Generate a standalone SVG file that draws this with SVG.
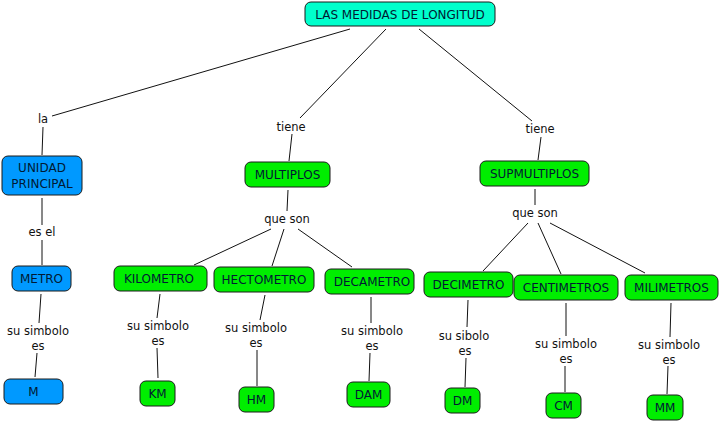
<svg xmlns="http://www.w3.org/2000/svg" width="721" height="422" viewBox="0 0 721 422">
<style>
.n rect{stroke:#1a1a1a;stroke-width:1;}
.g rect{fill:#00ee00;}
.b rect{fill:#0099ff;}
.r rect{fill:#00ffcc;}
text{font-family:"DejaVu Sans",Verdana,sans-serif;font-size:11px;text-anchor:middle;}
.n text{fill:#001a33;font-size:12px;}
.l{fill:#111;font-size:11.5px;}
#edges line{stroke:#111;stroke-width:1;}
</style>
<rect width="721" height="422" fill="#fff"/>
<g id="edges">
<line x1="350" y1="29" x2="52" y2="116"/>
<line x1="386" y1="29" x2="300" y2="118"/>
<line x1="419" y1="29" x2="532" y2="121"/>
<line x1="43" y1="127" x2="42" y2="155"/>
<line x1="292" y1="134" x2="289" y2="161"/>
<line x1="541" y1="137" x2="538" y2="160"/>
<line x1="42" y1="198" x2="42" y2="225"/>
<line x1="42" y1="240" x2="42" y2="265"/>
<line x1="288" y1="190" x2="287" y2="211"/>
<line x1="271" y1="229" x2="194" y2="265"/>
<line x1="284" y1="229" x2="272" y2="266"/>
<line x1="298" y1="229" x2="352" y2="267"/>
<line x1="535" y1="189" x2="535" y2="205"/>
<line x1="528" y1="223" x2="483" y2="271"/>
<line x1="538" y1="223" x2="561" y2="274"/>
<line x1="550" y1="223" x2="645" y2="273"/>
<line x1="41" y1="294" x2="39" y2="323"/>
<line x1="37" y1="353" x2="35" y2="377"/>
<line x1="160" y1="294" x2="157" y2="318"/>
<line x1="157" y1="348" x2="158" y2="378"/>
<line x1="265" y1="295" x2="260" y2="320"/>
<line x1="257" y1="350" x2="257" y2="386"/>
<line x1="371" y1="297" x2="371" y2="323"/>
<line x1="370" y1="353" x2="369" y2="381"/>
<line x1="468" y1="300" x2="467" y2="327"/>
<line x1="466" y1="358" x2="465" y2="387"/>
<line x1="566" y1="303" x2="566" y2="336"/>
<line x1="565" y1="366" x2="565" y2="392"/>
<line x1="671" y1="303" x2="670" y2="337"/>
<line x1="668" y1="366" x2="667" y2="394"/>
</g>
<g id="labels" class="l">
<text class="l" x="43" y="123">la</text>
<text class="l" x="291" y="131">tiene</text>
<text class="l" x="540" y="133">tiene</text>
<text class="l" x="42" y="236">es el</text>
<text class="l" x="287" y="223">que son</text>
<text class="l" x="535" y="217">que son</text>
<text class="l" x="38" y="335">su simbolo</text><text class="l" x="38" y="350">es</text>
<text class="l" x="158" y="330">su simbolo</text><text class="l" x="158" y="345">es</text>
<text class="l" x="256" y="332">su simbolo</text><text class="l" x="256" y="347">es</text>
<text class="l" x="372" y="335">su simbolo</text><text class="l" x="372" y="350">es</text>
<text class="l" x="464" y="340">su sibolo</text><text class="l" x="465" y="355">es</text>
<text class="l" x="566" y="348">su simbolo</text><text class="l" x="566" y="363">es</text>
<text class="l" x="669" y="349">su simbolo</text><text class="l" x="669" y="364">es</text>
</g>
<g id="root" class="n r"><rect x="305" y="2" width="190" height="24" rx="6"/><text x="400" y="18.5">LAS MEDIDAS DE LONGITUD</text></g>
<g id="unidad" class="n b"><rect x="2" y="156" width="80" height="39" rx="6"/><text x="42" y="172">UNIDAD</text><text x="42" y="187.5">PRINCIPAL</text></g>
<g id="metro" class="n b"><rect x="12" y="266" width="59" height="25" rx="6"/><text x="41.5" y="283">METRO</text></g>
<g id="m" class="n b"><rect x="4" y="379" width="59" height="25" rx="6"/><text x="33.5" y="396">M</text></g>
<g id="multiplos" class="n g"><rect x="245" y="162" width="85" height="25" rx="6"/><text x="287.5" y="179">MULTIPLOS</text></g>
<g id="supmultiplos" class="n g"><rect x="480" y="161" width="109" height="25" rx="6"/><text x="534.5" y="178">SUPMULTIPLOS</text></g>
<g id="kilometro" class="n g"><rect x="114" y="266" width="93" height="25" rx="6"/><text x="159" y="283">KILOMETRO</text></g>
<g id="hectometro" class="n g"><rect x="214" y="267" width="100" height="25" rx="6"/><text x="264" y="284">HECTOMETRO</text></g>
<g id="decametro" class="n g"><rect x="325" y="269" width="89" height="25" rx="6"/><text x="372" y="286">DECAMETRO</text></g>
<g id="decimetro" class="n g"><rect x="424" y="272" width="89" height="25" rx="6"/><text x="468.5" y="289">DECIMETRO</text></g>
<g id="centimetros" class="n g"><rect x="514" y="275" width="104" height="25" rx="6"/><text x="566" y="292">CENTIMETROS</text></g>
<g id="milimetros" class="n g"><rect x="625" y="275" width="93" height="25" rx="6"/><text x="671.5" y="292">MILIMETROS</text></g>
<g id="km" class="n g"><rect x="140" y="381" width="35" height="25" rx="6"/><text x="157.5" y="398">KM</text></g>
<g id="hm" class="n g"><rect x="239" y="387" width="35" height="25" rx="6"/><text x="256.5" y="404">HM</text></g>
<g id="dam" class="n g"><rect x="347" y="382" width="43" height="25" rx="6"/><text x="368.5" y="399">DAM</text></g>
<g id="dm" class="n g"><rect x="445" y="388" width="35" height="25" rx="6"/><text x="462.5" y="405">DM</text></g>
<g id="cm" class="n g"><rect x="546" y="393" width="35" height="25" rx="6"/><text x="563.5" y="410">CM</text></g>
<g id="mm" class="n g"><rect x="647" y="395" width="36" height="25" rx="6"/><text x="665" y="412">MM</text></g>
</svg>
